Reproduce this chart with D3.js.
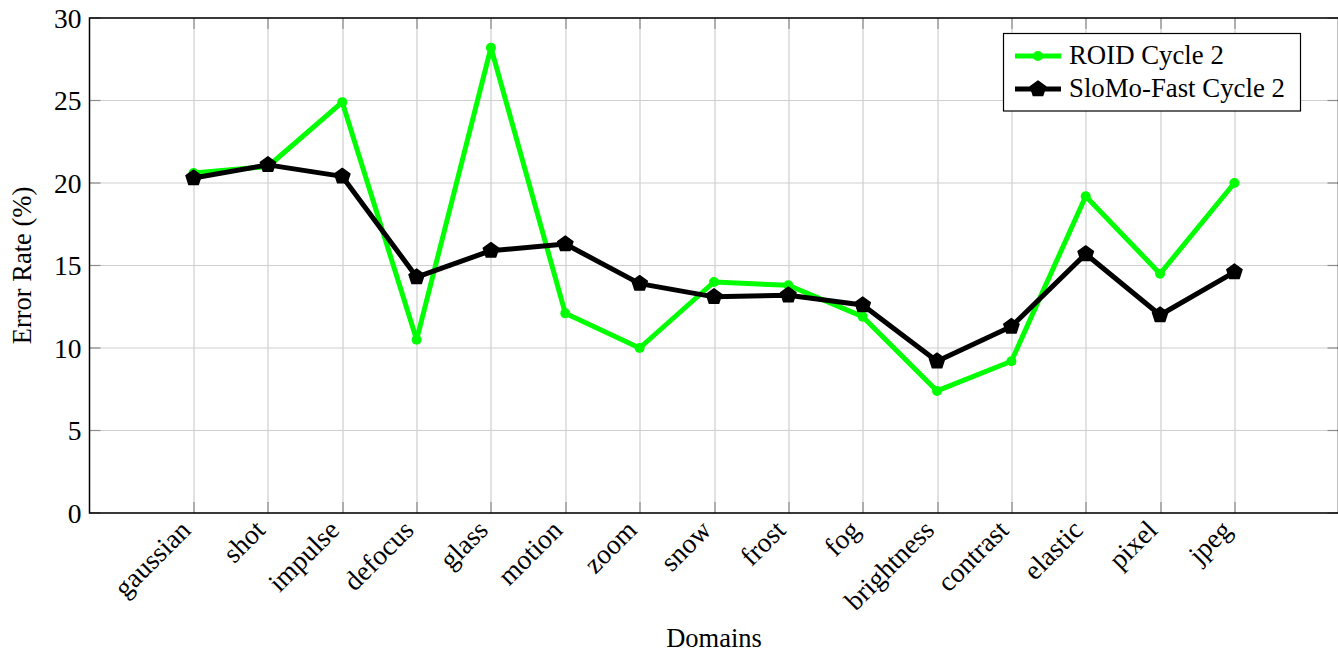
<!DOCTYPE html>
<html>
<head>
<meta charset="utf-8">
<script src="https://cdn.jsdelivr.net/npm/d3@7"></script>
<style>
  html, body { margin: 0; padding: 0; background: #fff; }
  svg { display: block; }
  text { font-family: "Liberation Serif", "Times New Roman", serif; fill: #000; }
</style>
</head>
<body>
<svg id="chart" width="1338" height="653"></svg>
<script>
// Corruption domains on the x axis
const domains = ["gaussian", "shot", "impulse", "defocus", "glass", "motion", "zoom",
  "snow", "frost", "fog", "brightness", "contrast", "elastic", "pixel", "jpeg"];

// Error rate (%) per domain
const roidCycle2 = [20.6, 21.0, 24.9, 10.5, 28.2, 12.1, 10.0, 14.0, 13.8, 11.9, 7.4, 9.2, 19.2, 14.5, 20.0];
const slomoFastCycle2 = [20.3, 21.1, 20.4, 14.3, 15.9, 16.3, 13.9, 13.1, 13.2, 12.6, 9.2, 11.3, 15.7, 12.0, 14.6];

const yTicks = [0, 5, 10, 15, 20, 25, 30];

const seriesNames = ["ROID Cycle 2", "SloMo-Fast Cycle 2"];

const svg = d3.select("#chart");
const plotLeft = 89.5, plotTop = 18, plotRight = 1338.5, plotBottom = 513;
const W = plotRight - plotLeft, H = plotBottom - plotTop;

const x = d3.scalePoint().domain(domains).range([0, W]).padding(1.4);
const y = d3.scaleLinear().domain([0, 30]).range([H, 0]);

const g = svg.append("g").attr("transform", `translate(${plotLeft},${plotTop})`);

// grid
g.append("g").selectAll("line").data(domains).join("line")
  .attr("x1", d => Math.round(x(d)) + 0.5).attr("x2", d => Math.round(x(d)) + 0.5)
  .attr("y1", 0).attr("y2", H)
  .attr("stroke", "#cfcfcf").attr("stroke-width", 1.2);
g.append("g").selectAll("line").data(yTicks).join("line")
  .attr("x1", 0).attr("x2", W)
  .attr("y1", d => y(d)).attr("y2", d => y(d))
  .attr("stroke", "#cfcfcf").attr("stroke-width", 1.2);

// inward tick marks on all four sides
const tl = 11;
const tickG = g.append("g").attr("stroke", "#8c8c8c").attr("stroke-width", 1.2);
domains.forEach(d => {
  const px = Math.round(x(d)) + 0.5;
  tickG.append("line").attr("x1", px).attr("x2", px).attr("y1", H).attr("y2", H - tl);
  tickG.append("line").attr("x1", px).attr("x2", px).attr("y1", 0).attr("y2", tl);
});
yTicks.forEach(v => {
  tickG.append("line").attr("x1", 0).attr("x2", tl).attr("y1", y(v)).attr("y2", y(v));
  tickG.append("line").attr("x1", W).attr("x2", W - tl).attr("y1", y(v)).attr("y2", y(v));
});

// y tick labels
g.append("g").selectAll("text").data(yTicks).join("text")
  .attr("x", -8).attr("y", d => y(d))
  .attr("text-anchor", "end").attr("dominant-baseline", "central")
  .style("font-size", "27.5px")
  .text(d => d);

// x tick labels, rotated
g.append("g").selectAll("text").data(domains).join("text")
  .attr("transform", d => `translate(${x(d) - 8},${H + 12}) rotate(-45)`)
  .attr("text-anchor", "end").attr("dominant-baseline", "central")
  .style("font-size", "27.5px")
  .text(d => d);

// lines and markers
const line = d3.line().x((d, i) => x(domains[i])).y(d => y(d));

function pentagonPath(r) {
  const pts = d3.range(5).map(k => {
    const a = -Math.PI / 2 + k * 2 * Math.PI / 5;
    return [r * Math.cos(a), r * Math.sin(a)];
  });
  return "M" + pts.map(p => p.join(",")).join("L") + "Z";
}

g.append("path").datum(roidCycle2)
  .attr("d", line).attr("fill", "none")
  .attr("stroke", "#00ff00").attr("stroke-width", 5).attr("stroke-linejoin", "round");
g.append("g").selectAll("circle").data(roidCycle2).join("circle")
  .attr("cx", (d, i) => x(domains[i])).attr("cy", d => y(d))
  .attr("r", 5).attr("fill", "#00ff00");

g.append("path").datum(slomoFastCycle2)
  .attr("d", line).attr("fill", "none")
  .attr("stroke", "#000").attr("stroke-width", 5).attr("stroke-linejoin", "round");
g.append("g").selectAll("path").data(slomoFastCycle2).join("path")
  .attr("transform", (d, i) => `translate(${x(domains[i])},${y(d)})`)
  .attr("d", pentagonPath(8)).attr("fill", "#000")
  .attr("stroke", "#000").attr("stroke-width", 1.5).attr("stroke-linejoin", "round");

// frame
g.append("rect").attr("x", 0).attr("y", 0).attr("width", W).attr("height", H)
  .attr("fill", "none").attr("stroke", "#000").attr("stroke-width", 1.5);

// axis titles
svg.append("text")
  .attr("x", plotLeft + W / 2).attr("y", 647)
  .attr("text-anchor", "middle").style("font-size", "26.5px")
  .text("Domains");
svg.append("text")
  .attr("transform", `translate(31,${plotTop + H / 2}) rotate(-90)`)
  .attr("text-anchor", "middle").style("font-size", "26.5px")
  .text("Error Rate (%)");

// legend
const lg = svg.append("g");
lg.append("rect").attr("x", 1003.5).attr("y", 33.5).attr("width", 297).attr("height", 77.5)
  .attr("fill", "#fff").attr("stroke", "#000").attr("stroke-width", 1.2);
const rows = [
  { name: seriesNames[0], color: "#00ff00", cy: 56, marker: "circle" },
  { name: seriesNames[1], color: "#000", cy: 89, marker: "pentagon" }
];
rows.forEach(r => {
  lg.append("line").attr("x1", 1015).attr("x2", 1061).attr("y1", r.cy).attr("y2", r.cy)
    .attr("stroke", r.color).attr("stroke-width", 5);
  if (r.marker === "circle") {
    lg.append("circle").attr("cx", 1038).attr("cy", r.cy).attr("r", 5).attr("fill", r.color);
  } else {
    lg.append("path").attr("transform", `translate(1038,${r.cy})`)
      .attr("d", pentagonPath(8)).attr("fill", r.color)
      .attr("stroke", r.color).attr("stroke-width", 1.5).attr("stroke-linejoin", "round");
  }
  lg.append("text").attr("x", 1069).attr("y", r.cy + 8)
    .style("font-size", "26.8px").text(r.name);
});
</script>
</body>
</html>
